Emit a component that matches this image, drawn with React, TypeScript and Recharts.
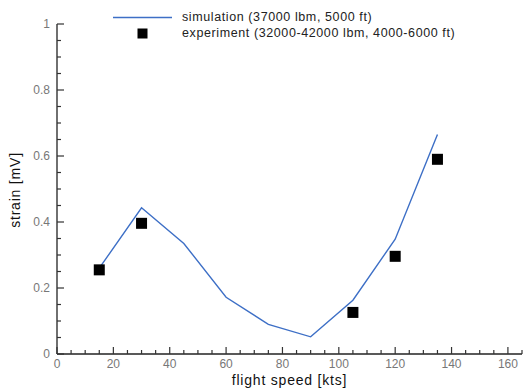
import { ComposedChart, Line, Scatter, XAxis, YAxis, Legend } from 'recharts';

const simSpeed = [15, 30, 45, 60, 75, 90, 105, 120, 135];
const simStrain = [0.26, 0.443, 0.335, 0.172, 0.09, 0.052, 0.163, 0.348, 0.665];

const expSpeed = [15, 30, 105, 120, 135];
const expStrain = [0.255, 0.396, 0.126, 0.296, 0.59];

const xTicks = [0, 5, 10, 15, 20, 25, 30, 35, 40, 45, 50, 55, 60, 65, 70, 75, 80, 85, 90, 95, 100, 105, 110, 115, 120, 125, 130, 135, 140, 145, 150, 155, 160, 165];
const yTicks = [0, 0.05, 0.1, 0.15, 0.2, 0.25, 0.3, 0.35, 0.4, 0.45, 0.5, 0.55, 0.6, 0.65, 0.7, 0.75, 0.8, 0.85, 0.9, 0.95, 1];

const simData = simSpeed.map((speed, i) => ({ speed, strain: simStrain[i] }));
const expData = expSpeed.map((speed, i) => ({ speed, strain: expStrain[i] }));

const FONT = '"Liberation Sans", Arial, sans-serif';
const BLUE = '#3d6fc6';

const XTick = (props: any) => {
  const { x, y, payload } = props;
  const v = payload.value;
  const major = v % 20 === 0;
  return (
    <g>
      <line x1={x} x2={x} y1={y} y2={y - (major ? 7 : 4)} stroke="#333" strokeWidth={1.2} />
      {major && (
        <text x={x} y={y + 13.5} textAnchor="middle" fill="#777" fontSize={12} fontFamily={FONT}>
          {v}
        </text>
      )}
    </g>
  );
};

const YTick = (props: any) => {
  const { x, y, payload } = props;
  const v = payload.value;
  const major = Math.round(v * 100) % 20 === 0;
  return (
    <g>
      <line x1={x} x2={x + (major ? 7 : 4)} y1={y} y2={y} stroke="#333" strokeWidth={1.2} />
      {major && (
        <text x={x - 7} y={y + 4} textAnchor="end" fill="#777" fontSize={12} fontFamily={FONT}>
          {Number(v.toFixed(1))}
        </text>
      )}
    </g>
  );
};

const LegendBox = () => (
  <div style={{ position: 'relative', width: 523, height: 44, fontFamily: FONT, fontSize: 12.5, color: '#222', letterSpacing: 0.6 }}>
    <svg width={80} height={44} style={{ position: 'absolute', left: 100, top: 0 }}>
      <line x1={13} x2={72} y1={17.5} y2={17.5} stroke={BLUE} strokeWidth={1.5} />
      <rect x={37.5} y={28.5} width={10} height={10} fill="#000" />
    </svg>
    <div style={{ position: 'absolute', left: 182, top: 10, whiteSpace: 'nowrap' }}>simulation (37000 lbm, 5000 ft)</div>
    <div style={{ position: 'absolute', left: 182, top: 26, whiteSpace: 'nowrap' }}>experiment (32000-42000 lbm, 4000-6000 ft)</div>
  </div>
);

const Square = (props: any) => (
  <rect x={props.cx - 5.5} y={props.cy - 5.5} width={11} height={11} fill="#000" />
);

export default function App() {
  return (
    <div style={{ position: 'absolute', left: 0, top: 0 }}>
      <ComposedChart width={523} height={388} margin={{ top: 24, right: 1, left: 0, bottom: 0 }}>
        <XAxis
          dataKey="speed"
          type="number"
          domain={[0, 165]}
          ticks={xTicks}
          interval={0}
          height={34}
          tickSize={0}
          tickMargin={0}
          tickLine={false}
          tick={<XTick />}
          stroke="#222"
          strokeWidth={1.3}
          label={{
            content: () => (
              <text x={289.5} y={384.5} textAnchor="middle" fill="#111" fontSize={14} fontFamily={FONT} letterSpacing={0.8}>
                flight speed [kts]
              </text>
            ),
          }}
        />
        <YAxis
          type="number"
          domain={[0, 1]}
          ticks={yTicks}
          interval={0}
          width={57}
          tickSize={0}
          tickMargin={0}
          tickLine={false}
          tick={<YTick />}
          stroke="#222"
          strokeWidth={1.3}
          label={{
            content: () => (
              <text
                x={20}
                y={190}
                transform="rotate(-90 20 190)"
                textAnchor="middle"
                fill="#111"
                fontSize={14}
                fontFamily={FONT}
                letterSpacing={0.8}
              >
                strain [mV]
              </text>
            ),
          }}
        />
        <Legend
          layout="vertical"
          align="center"
          verticalAlign="middle"
          wrapperStyle={{ left: 0, top: 0, width: 523 }}
          content={<LegendBox />}
        />
        <Line
          data={simData}
          dataKey="strain"
          type="linear"
          stroke={BLUE}
          strokeWidth={1.4}
          dot={false}
          activeDot={false}
          isAnimationActive={false}
        />
        <Scatter data={expData} dataKey="strain" fill="#000" shape={<Square />} isAnimationActive={false} />
      </ComposedChart>
    </div>
  );
}
